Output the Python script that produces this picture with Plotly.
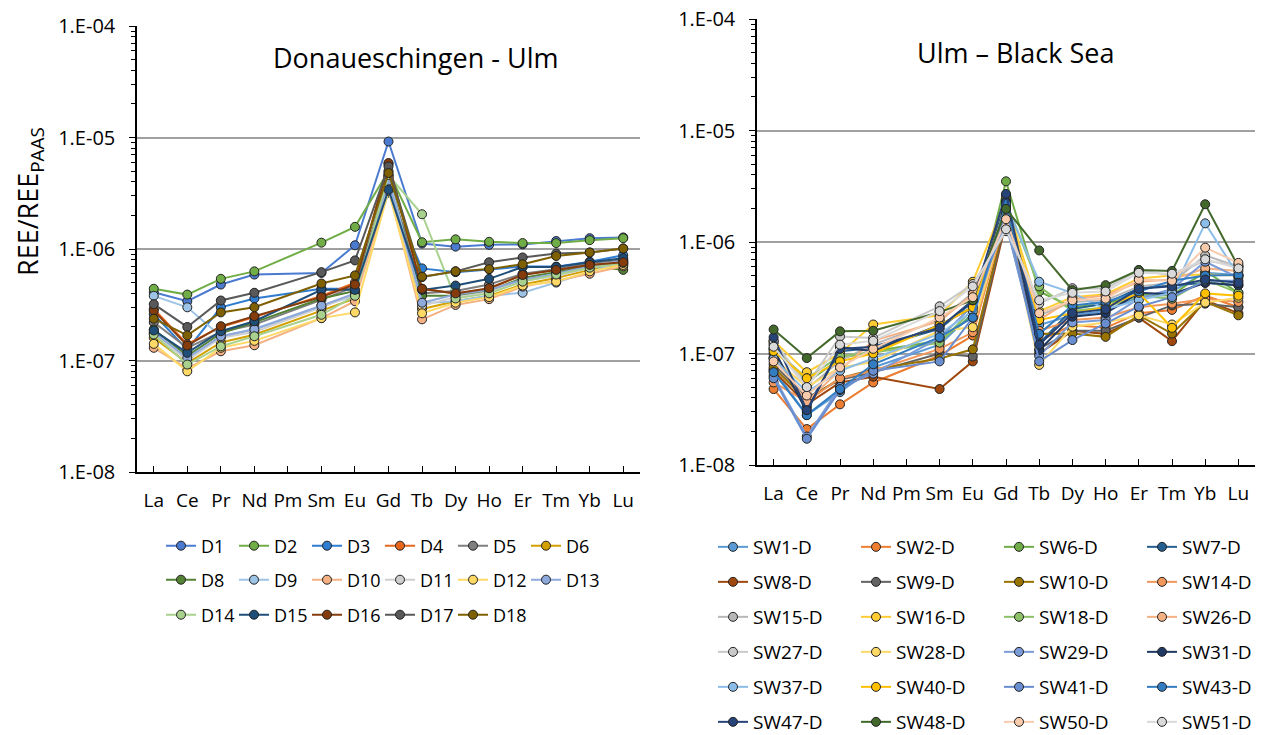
import plotly.graph_objects as go

elements = ["La", "Ce", "Pr", "Nd", "Pm", "Sm", "Eu", "Gd", "Tb", "Dy", "Ho", "Er", "Tm", "Yb", "Lu"]
ytick_vals = [1e-8, 1e-7, 1e-6, 1e-5, 1e-4]
ytick_text = ["1.E-08", "1.E-07", "1.E-06", "1.E-05", "1.E-04"]

# ---- Donaueschingen - Ulm (Pm not measured -> None) ----
left_names = ["D1", "D2", "D3", "D4", "D5", "D6", "D8", "D9", "D10", "D11", "D12", "D13",
              "D14", "D15", "D16", "D17", "D18"]
left_colors = ["#4A7BD0", "#70AD47", "#2E7DD1", "#E8651E", "#7F7F7F", "#D4A000", "#548235",
               "#9DC3E6", "#F4B183", "#CFCFCF", "#FFD966", "#8EA9DB", "#A9D18E", "#1F4E79",
               "#843C0C", "#595959", "#7F6000"]
D1 = [4.1e-7, 3.4e-7, 4.8e-7, 5.9e-7, None, 6.1e-7, 1.08e-6, 9.2e-6, 1.12e-6, 1.05e-6, 1.09e-6, 1.10e-6, 1.18e-6, 1.25e-6, 1.27e-6]
D2 = [4.4e-7, 3.9e-7, 5.4e-7, 6.3e-7, None, 1.14e-6, 1.58e-6, 5.0e-6, 1.15e-6, 1.22e-6, 1.16e-6, 1.13e-6, 1.13e-6, 1.20e-6, 1.25e-6]
D3 = [2.6e-7, 1.25e-7, 3.0e-7, 3.6e-7, None, 4.4e-7, 4.4e-7, 3.2e-6, 6.7e-7, 6.2e-7, 6.6e-7, 6.95e-7, 6.95e-7, 7.7e-7, 8.8e-7]
D4 = [2.9e-7, 1.4e-7, 2.0e-7, 2.45e-7, None, 3.8e-7, 5.0e-7, 5.8e-6, 4.4e-7, 4.0e-7, 4.4e-7, 5.9e-7, 6.5e-7, 7.2e-7, 7.6e-7]
D5 = [2.2e-7, 1.3e-7, 1.8e-7, 2.1e-7, None, 3.5e-7, 4.6e-7, 4.5e-6, 4.0e-7, 4.2e-7, 4.8e-7, 6.0e-7, 6.6e-7, 7.5e-7, 8.0e-7]
D6 = [1.6e-7, 9.5e-8, 1.45e-7, 1.7e-7, None, 2.8e-7, 3.6e-7, 4.0e-6, 2.9e-7, 3.4e-7, 3.8e-7, 4.8e-7, 5.5e-7, 6.5e-7, 7.3e-7]
D8 = [1.9e-7, 1.1e-7, 1.75e-7, 2.2e-7, None, 3.6e-7, 4.2e-7, 4.2e-6, 3.8e-7, 3.8e-7, 4.2e-7, 5.5e-7, 6.2e-7, 7.0e-7, 6.5e-7]
D9 = [3.8e-7, 3.0e-7, 1.65e-7, 1.92e-7, None, 3.1e-7, 3.8e-7, 4.5e-6, 3.26e-7, 3.4e-7, 3.8e-7, 4.05e-7, 5.0e-7, 6.2e-7, 7.8e-7]
D10 = [1.3e-7, 8.5e-8, 1.21e-7, 1.37e-7, None, 2.4e-7, 3.4e-7, 3.5e-6, 2.34e-7, 3.15e-7, 3.55e-7, 4.6e-7, 5.2e-7, 6.0e-7, 7.0e-7]
D11 = [1.75e-7, 1.0e-7, 1.6e-7, 1.8e-7, None, 3.0e-7, 3.9e-7, 3.8e-6, 3.1e-7, 3.7e-7, 4.1e-7, 5.2e-7, 5.7e-7, 6.8e-7, 7.4e-7]
D12 = [1.41e-7, 8.0e-8, 1.3e-7, 1.5e-7, None, 2.4e-7, 2.7e-7, 3.3e-6, 2.65e-7, 3.3e-7, 3.7e-7, 4.7e-7, 5.1e-7, 6.3e-7, 7.2e-7]
D13 = [1.8e-7, 1.05e-7, 1.65e-7, 1.9e-7, None, 3.1e-7, 4.0e-7, 4.1e-6, 3.3e-7, 3.9e-7, 4.3e-7, 5.3e-7, 6.0e-7, 7.0e-7, 7.8e-7]
D14 = [1.71e-7, 9.2e-8, 1.34e-7, 1.65e-7, None, 2.57e-7, 3.8e-7, 4.6e-6, 2.05e-6, 3.6e-7, 4.0e-7, 5.1e-7, 5.9e-7, 6.8e-7, 7.5e-7]
D15 = [1.86e-7, 1.17e-7, 1.83e-7, 2.25e-7, None, 4.3e-7, 4.3e-7, 3.4e-6, 4.3e-7, 4.7e-7, 5.4e-7, 6.9e-7, 6.9e-7, 7.6e-7, 8.25e-7]
D16 = [2.8e-7, 1.36e-7, 2.03e-7, 2.5e-7, None, 3.7e-7, 4.8e-7, 5.9e-6, 4.4e-7, 4.0e-7, 4.45e-7, 5.85e-7, 6.5e-7, 7.2e-7, 7.6e-7]
D17 = [3.2e-7, 2.0e-7, 3.45e-7, 4.05e-7, None, 6.2e-7, 7.9e-7, 5.5e-6, 5.6e-7, 6.3e-7, 7.6e-7, 8.4e-7, 9.1e-7, 9.3e-7, 1.01e-6]
D18 = [2.37e-7, 1.68e-7, 2.7e-7, 3.0e-7, None, 4.9e-7, 5.8e-7, 4.8e-6, 5.65e-7, 6.3e-7, 6.6e-7, 7.3e-7, 8.65e-7, 9.3e-7, 1.01e-6]
left_values = [D1, D2, D3, D4, D5, D6, D8, D9, D10, D11, D12, D13, D14, D15, D16, D17, D18]

# ---- Ulm - Black Sea ----
right_names = ["SW1-D", "SW2-D", "SW6-D", "SW7-D", "SW8-D", "SW9-D", "SW10-D", "SW14-D",
               "SW15-D", "SW16-D", "SW18-D", "SW26-D", "SW27-D", "SW28-D", "SW29-D", "SW31-D",
               "SW37-D", "SW40-D", "SW41-D", "SW43-D", "SW47-D", "SW48-D", "SW50-D", "SW51-D"]
right_colors = ["#5B9BD5", "#ED7D31", "#70AD47", "#255E91", "#9E480E", "#636363", "#997300",
                "#F1975A", "#B7B7B7", "#FFCD33", "#8CC168", "#F4B183", "#C9C9C9", "#FFD966",
                "#7A9BD8", "#1F3864", "#8CBDE8", "#FFC000", "#698ED0", "#327DC2", "#264478",
                "#43682B", "#F8CBAD", "#D9D9D9"]
SW1 = [7.2e-8, 2.8e-8, 4.5e-8, 7.5e-8, None, 1.2e-7, 2.3e-7, 2.0e-6, 1.8e-7, 2.2e-7, 2.4e-7, 3.2e-7, 3.6e-7, 5.3e-7, 5.05e-7]
SW2 = [4.8e-8, 2.1e-8, 3.5e-8, 5.5e-8, None, 9.6e-8, 1.45e-7, 2.0e-6, 1.3e-7, 1.8e-7, 1.7e-7, 2.3e-7, 2.46e-7, 3.3e-7, 2.6e-7]
SW6 = [1.2e-7, 5.5e-8, 9.0e-8, 1.05e-7, None, 1.3e-7, 2.2e-7, 3.5e-6, 3.6e-7, 2.6e-7, 2.8e-7, 3.4e-7, 3.3e-7, 5.5e-7, 3.5e-7]
SW7 = [1.0e-7, 3.3e-8, 1.05e-7, 1.12e-7, None, 1.66e-7, 2.9e-7, 2.6e-6, 1.23e-7, 2.5e-7, 2.8e-7, 3.85e-7, 4.1e-7, 4.3e-7, 4.1e-7]
SW8 = [7.0e-8, 3.5e-8, 5.5e-8, 6.2e-8, None, 4.8e-8, 8.5e-8, 1.5e-6, 1.0e-7, 1.6e-7, 1.5e-7, 2.1e-7, 1.29e-7, 3.0e-7, 2.3e-7]
SW9 = [8.0e-8, 4.0e-8, 5.8e-8, 6.8e-8, None, 1.0e-7, 9.4e-8, 1.6e-6, 1.1e-7, 1.6e-7, 1.6e-7, 2.1e-7, 2.7e-7, 2.8e-7, 2.6e-7]
SW10 = [7.5e-8, 3.8e-8, 6.0e-8, 7.2e-8, None, 9.0e-8, 1.09e-7, 1.7e-6, 1.5e-7, 1.51e-7, 1.41e-7, 2.2e-7, 1.51e-7, 2.9e-7, 2.2e-7]
SW14 = [5.5e-8, 3.7e-8, 6.0e-8, 7.0e-8, None, 1.1e-7, 1.55e-7, 1.7e-6, 1.6e-7, 2.0e-7, 2.1e-7, 2.6e-7, 2.8e-7, 3.1e-7, 2.9e-7]
SW15 = [1.25e-7, 4.8e-8, 8.6e-8, 1.2e-7, None, 2.0e-7, 3.5e-7, 1.9e-6, 2.2e-7, 2.9e-7, 3.0e-7, 4.0e-7, 4.3e-7, 7.6e-7, 6.0e-7]
SW16 = [1.3e-7, 6.8e-8, 1.0e-7, 1.82e-7, None, 2.2e-7, 4.4e-7, 2.4e-6, 2.4e-7, 3.2e-7, 3.4e-7, 4.7e-7, 5.0e-7, 5.1e-7, 5.0e-7]
SW18 = [1.1e-7, 6.0e-8, 9.5e-8, 1.02e-7, None, 1.25e-7, 2.5e-7, 2.3e-6, 4.0e-7, 2.4e-7, 2.6e-7, 3.3e-7, 3.1e-7, 4.6e-7, 3.5e-7]
SW26 = [9.3e-8, 3.7e-8, 7.1e-8, 1.3e-7, None, 1.95e-7, 3.4e-7, 2.0e-6, 2.0e-7, 3.1e-7, 3.3e-7, 4.4e-7, 4.6e-7, 5.8e-7, 5.5e-7]
SW27 = [1.3e-7, 5.2e-8, 1.42e-7, 1.38e-7, None, 2.65e-7, 4.2e-7, 1.25e-6, 2.8e-7, 3.85e-7, 3.8e-7, 5.6e-7, 5.0e-7, 6.8e-7, 6.2e-7]
SW28 = [9.0e-8, 5.0e-8, 7.5e-8, 8.4e-8, None, 1.6e-7, 1.72e-7, 1.8e-6, 7.9e-8, 1.74e-7, 1.9e-7, 2.2e-7, 1.82e-7, 2.86e-7, 3.16e-7]
SW29 = [6.3e-8, 1.8e-8, 5.0e-8, 6.6e-8, None, 1.38e-7, 2.7e-7, 1.47e-6, 9.5e-8, 1.9e-7, 2.0e-7, 3.1e-7, 3.8e-7, 6.65e-7, 4.8e-7]
SW31 = [1.1e-7, 3.0e-8, 1.14e-7, 1.05e-7, None, 1.8e-7, 2.6e-7, 2.3e-6, 1.07e-7, 2.14e-7, 2.3e-7, 3.5e-7, 3.4e-7, 4.3e-7, 4.1e-7]
SW37 = [9.0e-8, 4.5e-8, 7.0e-8, 9.0e-8, None, 1.5e-7, 2.4e-7, 2.2e-6, 4.4e-7, 3.5e-7, 2.5e-7, 3.0e-7, 3.5e-7, 1.47e-6, 5.0e-7]
SW40 = [1.05e-7, 6.0e-8, 8.5e-8, 1.0e-7, None, 1.8e-7, 2.6e-7, 2.1e-6, 2.0e-7, 2.3e-7, 2.6e-7, 3.5e-7, 1.7e-7, 3.46e-7, 3.3e-7]
SW41 = [6.0e-8, 1.72e-8, 4.7e-8, 7.0e-8, None, 8.5e-8, 2.1e-7, 1.8e-6, 8.5e-8, 1.32e-7, 1.86e-7, 2.63e-7, 3.2e-7, 4.5e-7, 4.5e-7]
SW43 = [6.8e-8, 2.8e-8, 4.8e-8, 8.0e-8, None, 1.4e-7, 2.1e-7, 2.2e-6, 1.5e-7, 2.7e-7, 2.9e-7, 3.6e-7, 4.5e-7, 5.0e-7, 5.05e-7]
SW47 = [1.4e-7, 3.1e-8, 1.1e-7, 1.15e-7, None, 1.7e-7, 3.0e-7, 2.7e-6, 1.2e-7, 2.3e-7, 2.5e-7, 3.8e-7, 4.0e-7, 4.6e-7, 4.3e-7]
SW48 = [1.64e-7, 9.1e-8, 1.58e-7, 1.6e-7, None, 2.35e-7, 3.0e-7, 1.98e-6, 8.4e-7, 3.7e-7, 4.1e-7, 5.6e-7, 5.5e-7, 2.18e-6, 6.0e-7]
SW50 = [8.5e-8, 4.2e-8, 7.5e-8, 1.1e-7, None, 2.1e-7, 3.2e-7, 1.6e-6, 2.3e-7, 3.0e-7, 3.1e-7, 4.6e-7, 4.5e-7, 8.9e-7, 6.5e-7]
SW51 = [1.15e-7, 5.0e-8, 1.2e-7, 1.3e-7, None, 2.4e-7, 4.0e-7, 1.3e-6, 3.0e-7, 3.5e-7, 3.6e-7, 5.3e-7, 5.2e-7, 7.0e-7, 5.8e-7]
right_values = [SW1, SW2, SW6, SW7, SW8, SW9, SW10, SW14, SW15, SW16, SW18, SW26, SW27, SW28,
                SW29, SW31, SW37, SW40, SW41, SW43, SW47, SW48, SW50, SW51]

# The page body adds an 8px margin, so the figure is made 8px smaller and positions shifted.
OFF = 8
W, H = 1263 - OFF, 735 - OFF
FONT = "Open Sans"

fig = go.Figure()

def legend_name(i):
    return "legend" if i == 1 else f"legend{i}"

for k, (nm, col, vals) in enumerate(zip(left_names, left_colors, left_values)):
    fig.add_trace(go.Scatter(
        x=elements, y=vals, name=nm, mode="lines+markers", connectgaps=True,
        line=dict(color=col, width=2),
        marker=dict(size=9, color=col, line=dict(color="#222222", width=1)),
        xaxis="x", yaxis="y", legend=legend_name(1 + k // 6)))

for k, (nm, col, vals) in enumerate(zip(right_names, right_colors, right_values)):
    fig.add_trace(go.Scatter(
        x=elements, y=vals, name=nm, mode="lines+markers", connectgaps=True,
        line=dict(color=col, width=2),
        marker=dict(size=9, color=col, line=dict(color="#222222", width=1)),
        xaxis="x2", yaxis="y2", legend=legend_name(4 + k // 4)))

def px_x(p):
    return (p - OFF) / W

def px_y(p):
    return 1 - (p - OFF) / H

yaxis_common = dict(
    type="log", range=[-8, -4], tickmode="array", tickvals=ytick_vals, ticktext=ytick_text,
    showgrid=True, gridcolor="#A0A0A0", gridwidth=1.5, showline=True, linecolor="black",
    linewidth=1.5, ticks="outside", ticklen=6, tickcolor="black", tickwidth=1.2,
    ticklabelstandoff=10, ticklabeloverflow="allow",
    minor=dict(dtick="D1", ticks="outside", ticklen=4, tickcolor="black", showgrid=False),
    tickfont=dict(family=FONT, size=20, color="black"), zeroline=False)
xaxis_common = dict(
    type="category", categoryorder="array", categoryarray=elements, range=[-0.5, 14.5],
    showgrid=False, showline=True, linecolor="black", linewidth=1.5, ticks="inside",
    ticklen=6, tickcolor="black", tickwidth=1.2, ticklabelstandoff=10,
    tickfont=dict(family=FONT, size=19, color="black"), zeroline=False)

layout = dict(
    width=W, height=H, margin=dict(l=0, r=0, t=0, b=0, autoexpand=False),
    paper_bgcolor="white", plot_bgcolor="white", showlegend=True,
    font=dict(family=FONT, color="black"),
    xaxis=dict(xaxis_common, domain=[px_x(137), px_x(640)], anchor="y"),
    yaxis=dict(yaxis_common, domain=[px_y(472), px_y(26)], anchor="x"),
    xaxis2=dict(xaxis_common, domain=[px_x(757), px_x(1255)], anchor="y2"),
    yaxis2=dict(yaxis_common, domain=[px_y(465), px_y(19)], anchor="x2"),
    annotations=[
        dict(text="Donaueschingen - Ulm", x=px_x(415), y=px_y(57), xref="paper", yref="paper",
             xanchor="center", yanchor="middle", showarrow=False,
             font=dict(family=FONT, size=27, color="black")),
        dict(text="Ulm – Black Sea", x=px_x(1015), y=px_y(53), xref="paper", yref="paper",
             xanchor="center", yanchor="middle", showarrow=False,
             font=dict(family=FONT, size=27, color="black")),
        dict(text="REE/REE<sub>PAAS</sub>", x=px_x(30), y=px_y(202), xref="paper", yref="paper",
             xanchor="center", yanchor="middle", showarrow=False, textangle=-90,
             font=dict(family=FONT, size=27, color="black")),
    ],
)

left_rows_y = [546, 580, 615]
for i, yy in enumerate(left_rows_y):
    layout[legend_name(1 + i)] = dict(
        orientation="h", x=px_x(161), xanchor="left", y=px_y(yy), yanchor="middle",
        entrywidth=28, entrywidthmode="pixels", tracegroupgap=0, itemwidth=30,
        font=dict(family=FONT, size=18, color="black"), bgcolor="rgba(0,0,0,0)")
right_rows_y = [547, 582, 617, 652, 687, 722]
for i, yy in enumerate(right_rows_y):
    layout[legend_name(4 + i)] = dict(
        orientation="h", x=px_x(713), xanchor="left", y=px_y(yy), yanchor="middle",
        entrywidth=98, entrywidthmode="pixels", tracegroupgap=0, itemwidth=30,
        font=dict(family=FONT, size=19, color="black"), bgcolor="rgba(0,0,0,0)")

fig.update_layout(**layout)
fig.write_html("out.html")
